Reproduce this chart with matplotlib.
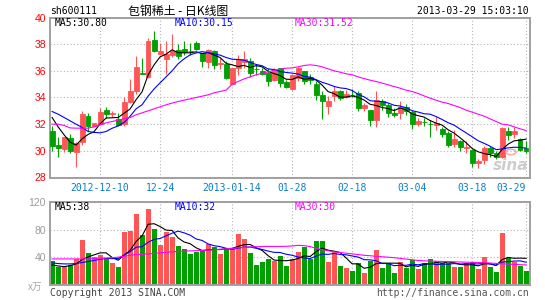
import matplotlib.pyplot as plt
import numpy as np

W, H = 545, 300

# ---- data ----
date_labels = ["2012-12-10", "12-24", "2013-01-14", "01-28", "02-18", "03-04", "03-18", "03-29"]
date_idx = [8, 18, 30, 40, 50, 60, 70, 79]

opens = [31.5, 30.45, 30.15, 30.95, 29.88, 30.65, 32.63, 31.83, 32.0, 33.07,
         32.8, 32.38, 32.0, 33.65, 34.45, 35.85, 35.5, 38.3, 37.25, 36.9,
         37.2, 37.57, 37.65, 37.52, 38.07, 37.32, 36.65, 37.45, 36.5, 36.5,
         35.0, 36.2, 36.65, 36.75, 36.15, 35.95, 35.82, 35.32, 36.2, 35.15,
         34.65, 35.45, 35.95, 35.57, 35.0, 34.2, 33.37, 34.15, 34.45, 34.02,
         34.22, 34.32, 33.2, 33.07, 32.32, 33.75, 33.45, 32.87, 32.82, 33.25,
         32.9, 32.0, 32.18, 32.03, 31.95, 31.65, 31.37, 30.5, 30.75, 30.22,
         30.07, 29.07, 29.32, 30.2, 29.82, 29.57, 31.5, 31.25, 30.9, 30.2]
highs = [31.85, 31.0, 31.05, 31.25, 30.65, 33.0, 32.83, 32.1, 33.2, 33.25,
         32.95, 32.83, 34.0, 35.38, 37.08, 36.95, 38.5, 38.95, 38.1, 38.2,
         38.78, 37.98, 38.2, 38.07, 38.2, 37.35, 37.65, 37.57, 36.95, 36.75,
         36.2, 37.2, 37.5, 36.95, 36.45, 36.2, 36.2, 36.2, 36.2, 35.32,
         35.7, 36.32, 36.0, 35.75, 35.2, 34.5, 34.15, 34.9, 34.57, 34.57,
         34.65, 34.5, 33.57, 33.07, 34.45, 33.9, 33.57, 33.2, 33.75, 33.5,
         33.07, 32.45, 32.45, 32.32, 32.5, 31.82, 31.5, 31.57, 30.82, 30.7,
         30.15, 29.4, 30.4, 30.4, 30.0, 31.82, 31.82, 31.82, 30.95, 30.7]
lows = [29.95, 29.5, 29.9, 29.83, 28.75, 30.45, 31.5, 31.75, 31.95, 32.45,
        32.5, 31.9, 31.88, 33.6, 34.3, 35.75, 35.45, 37.4, 37.2, 35.8,
        37.07, 36.9, 37.2, 37.2, 37.57, 36.25, 36.2, 36.15, 36.12, 35.4,
        34.95, 35.7, 36.2, 35.57, 35.7, 35.7, 34.87, 35.2, 34.82, 34.7,
        34.57, 35.25, 35.0, 35.0, 33.82, 32.4, 32.75, 33.75, 33.82, 33.95,
        34.0, 32.95, 33.0, 31.9, 31.82, 33.07, 32.5, 32.5, 32.4, 32.7,
        31.65, 31.9, 31.9, 31.07, 31.57, 31.0, 30.25, 30.32, 29.95, 29.82,
        28.82, 28.7, 29.0, 29.57, 29.4, 29.45, 30.82, 30.95, 29.95, 29.82]
closes = [30.4, 30.2, 31.0, 29.95, 30.6, 32.75, 31.83, 32.07, 32.88, 32.75,
          32.85, 31.95, 33.65, 34.5, 36.25, 35.8, 38.25, 37.45, 37.5, 37.25,
          37.45, 37.15, 37.4, 37.5, 37.65, 36.75, 37.57, 36.45, 36.6, 35.45,
          36.2, 36.9, 36.9, 35.82, 36.12, 35.75, 35.2, 36.07, 35.07, 34.75,
          35.65, 36.2, 35.2, 35.32, 34.2, 33.75, 33.75, 34.45, 33.95, 34.27,
          34.2, 33.2, 33.45, 32.32, 33.82, 33.45, 32.82, 32.7, 33.32, 33.0,
          32.0, 32.2, 32.15, 32.0, 32.07, 31.25, 30.45, 30.87, 30.25, 30.25,
          29.07, 29.2, 30.2, 29.82, 29.57, 31.7, 31.2, 31.45, 30.07, 30.0]

ma5 = [32.5, 31.8, 31.2, 30.65, 30.43, 30.9, 31.23, 31.44, 32.03, 32.46,
       32.48, 32.5, 32.82, 33.14, 33.84, 34.43, 35.69, 36.45, 37.05, 37.25,
       37.58, 37.36, 37.35, 37.35, 37.43, 37.29, 37.37, 37.18, 37.0, 36.56,
       36.45, 36.32, 36.41, 36.25, 36.39, 36.3, 35.96, 35.79, 35.64, 35.37,
       35.35, 35.55, 35.37, 35.42, 35.31, 34.93, 34.44, 34.29, 34.02, 34.03,
       34.12, 34.01, 33.81, 33.49, 33.4, 33.25, 33.17, 33.02, 33.22, 33.06,
       32.77, 32.64, 32.53, 32.27, 32.08, 31.93, 31.58, 31.33, 30.98, 30.61,
       30.18, 29.93, 29.79, 29.71, 29.57, 30.1, 30.5, 30.75, 30.8, 30.88]
ma10 = [32.95, 32.75, 32.5, 32.25, 32.0, 31.75, 31.45, 31.38, 31.35, 31.45,
        31.69, 31.87, 32.13, 32.59, 33.15, 33.46, 34.1, 34.64, 35.1, 35.55,
        36.0, 36.53, 36.9, 37.2, 37.34, 37.44, 37.37, 37.27, 37.18, 37.0,
        36.87, 36.85, 36.8, 36.63, 36.48, 36.38, 36.14, 36.1, 35.95, 35.88,
        35.83, 35.76, 35.58, 35.53, 35.34, 35.14, 35.0, 34.83, 34.72, 34.67,
        34.53, 34.23, 34.05, 33.76, 33.72, 33.69, 33.59, 33.42, 33.36, 33.23,
        33.01, 32.91, 32.78, 32.75, 32.57, 32.35, 32.11, 31.93, 31.63, 31.35,
        31.06, 30.76, 30.56, 30.35, 30.09, 30.14, 30.22, 30.27, 30.26, 30.2]
ma30 = [32.0, 32.0, 31.9, 31.72, 31.7, 31.7, 31.7, 31.8, 31.95, 32.1,
        32.2, 32.3, 32.4, 32.5, 32.7, 32.85, 33.0, 33.15, 33.3, 33.45,
        33.58, 33.7, 33.8, 33.9, 34.0, 34.1, 34.2, 34.35, 34.45, 34.55,
        35.0, 35.2, 35.4, 35.55, 35.7, 35.82, 35.92, 36.05, 36.12, 36.2,
        36.22, 36.3, 36.4, 36.45, 36.4, 36.3, 36.15, 36.0, 35.9, 35.78,
        35.7, 35.55, 35.42, 35.3, 35.2, 35.08, 34.95, 34.82, 34.7, 34.55,
        34.45, 34.3, 34.12, 33.95, 33.8, 33.65, 33.55, 33.4, 33.25, 33.05,
        32.9, 32.75, 32.6, 32.4, 32.2, 32.0, 31.95, 31.8, 31.65, 31.52]

volume = [34.5, 25.6, 25.6, 29, 38, 64.6, 46, 40.2, 43, 38.7,
          31.4, 25.6, 76.8, 77.8, 102.7, 71.9, 110, 80.7, 57.3, 76.8,
          69.5, 55.8, 51.4, 45, 47.5, 50, 59.7, 54.9, 44.1, 53.4,
          52.4, 74.4, 67, 46, 29.5, 32.9, 37.3, 35.3, 42.6, 28,
          37.8, 47.6, 54.9, 37.8, 63.2, 63.2, 32.9, 47.6, 28, 24.2,
          20.7, 31.5, 16.8, 35.4, 50, 24.2, 31.5, 16.8, 33.9, 24.6,
          36.4, 22.7, 31.5, 37.3, 34.9, 31.5, 31.5, 25.6, 25.6, 31.5,
          33, 22.7, 40.3, 26.6, 18.3, 75.4, 38.8, 33.9, 28, 19.8]
vma5 = [29, 27.5, 26.5, 28, 30.5, 36.6, 40.6, 43.6, 46.4, 46.5,
        39.9, 35.8, 43.1, 50.1, 62.9, 71.0, 87.8, 88.6, 84.5, 79.3,
        78.9, 68.0, 62.2, 59.7, 53.8, 49.9, 50.7, 51.4, 51.2, 52.4,
        52.9, 55.8, 58.3, 58.6, 53.9, 50.0, 42.4, 36.1, 35.4, 35.1,
        36.1, 38.3, 42.2, 41.2, 48.3, 53.3, 50.4, 48.9, 47.0, 39.2,
        30.7, 30.4, 24.2, 25.7, 30.9, 31.6, 31.6, 31.6, 31.3, 26.2,
        28.6, 26.9, 29.8, 30.5, 32.6, 31.6, 33.3, 32.2, 29.8, 29.1,
        29.4, 27.7, 30.6, 30.8, 28.2, 36.7, 39.9, 38.6, 38.9, 38.5]
vma10 = [32, 31, 30.5, 30.5, 31, 32.5, 34, 35.5, 37, 38.5,
         38.2, 38.2, 43.3, 48.2, 54.7, 55.4, 61.8, 65.9, 67.3, 71.1,
         74.9, 77.9, 75.4, 72.1, 66.6, 64.4, 59.4, 56.8, 55.5, 53.1,
         51.4, 53.3, 54.8, 54.9, 53.1, 51.4, 49.1, 47.2, 47.0, 44.5,
         43.0, 40.4, 39.1, 38.3, 41.7, 44.7, 44.3, 45.6, 44.1, 43.7,
         42.0, 40.4, 36.6, 36.4, 35.0, 31.1, 31.0, 27.9, 28.5, 28.5,
         30.1, 29.2, 30.7, 30.9, 29.4, 30.1, 30.1, 31.0, 30.2, 30.9,
         30.5, 30.5, 31.4, 30.3, 28.7, 33.1, 33.8, 34.6, 34.9, 32.9]
vma30 = [37.7, 37.7, 37.7, 37.7, 37.7, 37.7, 37.8, 38.2, 38.6, 39,
         39.5, 40.2, 41.5, 43, 44, 44.5, 45, 45.7, 46.5, 47.3,
         48, 48.5, 49, 49.3, 49.7, 50, 50.5, 51, 51.7, 52.3,
         53, 53.7, 54.3, 55, 55.3, 55.6, 55.8, 55.8, 55.8, 55.9,
         56.5, 57.3, 57, 55.5, 53, 51, 49.5, 48, 47, 46,
         45, 44, 43, 42.3, 41.5, 40.8, 40.2, 39.5, 38.5, 37.5,
         36.5, 35.5, 35, 34.6, 34.3, 34, 33.8, 33.5, 33.2, 33,
         32.8, 32.5, 32.2, 31.8, 31.2, 30.6, 30.2, 29.8, 29.4, 29]

ma_texts = ["MA5:30.80", "MA10:30.15", "MA30:31.52"]
vma_texts = ["MA5:38", "MA10:32", "MA30:30"]

# ---- style ----
RED = "#FF5555"
GREEN = "#00A000"
GRID = "#B4B4B4"
BORDER = "#A0A0A0"
MONO = "DejaVu Sans Mono"
CJK = ["Noto Sans CJK SC", "DejaVu Sans"]


def fx(x):
    return x / W


def fy(y):
    return 1 - y / H


n = len(closes)
x = np.arange(n)
up = np.array(closes) >= np.array(opens)
colors = [RED if u else GREEN for u in up]

fig = plt.figure(figsize=(W / 100, H / 100), dpi=100)
fig.patch.set_facecolor("white")

# main K-line axes
ax = fig.add_axes([fx(50), fy(177.5), fx(480), 160 / H])
ax.vlines(x, lows, highs, colors=colors, linewidth=0.8, zorder=2)
body_bottom = np.minimum(opens, closes)
body_h = np.abs(np.array(closes) - np.array(opens))
ax.bar(x, body_h, bottom=body_bottom, width=0.8, color=colors,
       edgecolor=colors, linewidth=0.6, zorder=3)
ax.plot(x, ma5, color="black", lw=0.8, zorder=4)
ax.plot(x, ma10, color="#0000FF", lw=0.8, zorder=4)
ax.plot(x, ma30, color="#FF00FF", lw=0.8, zorder=4)

ax.set_xlim(-0.35, 79.65)
ax.set_ylim(28, 40)
ax.set_yticks(range(28, 41, 2))
ax.set_yticklabels([str(v) for v in range(28, 41, 2)], color="#FF0000",
                   fontfamily="Liberation Sans", fontsize=7.5)
ax.set_xticks(date_idx)
ax.set_xticklabels(date_labels, color="#0A7CC8", fontfamily=MONO, fontsize=7)
ax.get_xticklabels()[-1].set_ha("right")
ax.tick_params(length=0, pad=3)
ax.tick_params(axis="x", pad=4)
ax.grid(True, color=GRID, linestyle=(0, (1, 2)), linewidth=0.8)
ax.set_axisbelow(True)
for s in ax.spines.values():
    s.set_color(BORDER)
    s.set_linewidth(1.4)

# volume axes
vax = fig.add_axes([fx(50), fy(285), fx(480), 83 / H])
vax.bar(x, volume, width=0.83, color=colors, zorder=2)
vax.plot(x, vma5, color="black", lw=0.8, zorder=3)
vax.plot(x, vma10, color="#0000FF", lw=0.8, zorder=3)
vax.plot(x, vma30, color="#FF00FF", lw=0.8, zorder=3)
vax.set_xlim(-0.35, 79.65)
vax.set_ylim(0, 120)
vax.set_yticks([40, 80, 120])
vax.set_yticklabels(["40", "80", "120"], color="#9A9A9A",
                    fontfamily="Liberation Sans", fontsize=7.5)
vax.set_xticks(date_idx)
vax.set_xticklabels([])
vax.tick_params(length=0, pad=3)
vax.grid(True, color=GRID, linestyle=(0, (1, 2)), linewidth=0.8)
vax.set_axisbelow(True)
for s in vax.spines.values():
    s.set_color(BORDER)
    s.set_linewidth(1.4)

# texts
fig.text(fx(50), fy(11), "sh600111", fontfamily=MONO, fontsize=7,
         va="center", ha="left", color="black")
fig.text(fx(178), fy(11), "包钢稀土 - 日K线图", family=CJK, fontsize=8.6,
         va="center", ha="center", color="black")
fig.text(fx(529), fy(11), "2013-03-29 15:03:10", fontfamily=MONO, fontsize=7,
         va="center", ha="right", color="black")

for t, xp, c in zip(ma_texts, [55, 175, 295], ["black", "#0000FF", "#FF00FF"]):
    fig.text(fx(xp), fy(23.5), t, fontfamily=MONO, fontsize=7, va="center",
             ha="left", color=c)
for t, xp, c in zip(vma_texts, [55, 175, 295], ["black", "#0000FF", "#FF00FF"]):
    fig.text(fx(xp), fy(206.5), t, fontfamily=MONO, fontsize=7, va="center",
             ha="left", color=c)

fig.text(fx(28), fy(287), "x万", family=CJK, fontsize=7, va="center",
         ha="left", color="#A8A8A8")
fig.text(fx(50), fy(292.5), "Copyright 2013 SINA.COM", fontfamily=MONO,
         fontsize=7, va="center", ha="left", color="#444444")
fig.text(fx(529), fy(292.5), "http://finance.sina.com.cn", fontfamily=MONO,
         fontsize=7, va="center", ha="right", color="#555555")

# sina watermark
fig.text(fx(511), fy(165), "sina", fontfamily="DejaVu Sans", fontsize=11,
         fontstyle="italic", fontweight="bold", va="center", ha="center",
         color="#C8C8C8", alpha=0.9)
fig.patches.append(plt.Circle((fx(511), fy(152)), 0.009, transform=fig.transFigure,
                              fill=False, edgecolor="#F2B0B0", linewidth=1.2))

fig.savefig("out.png", dpi=100)
